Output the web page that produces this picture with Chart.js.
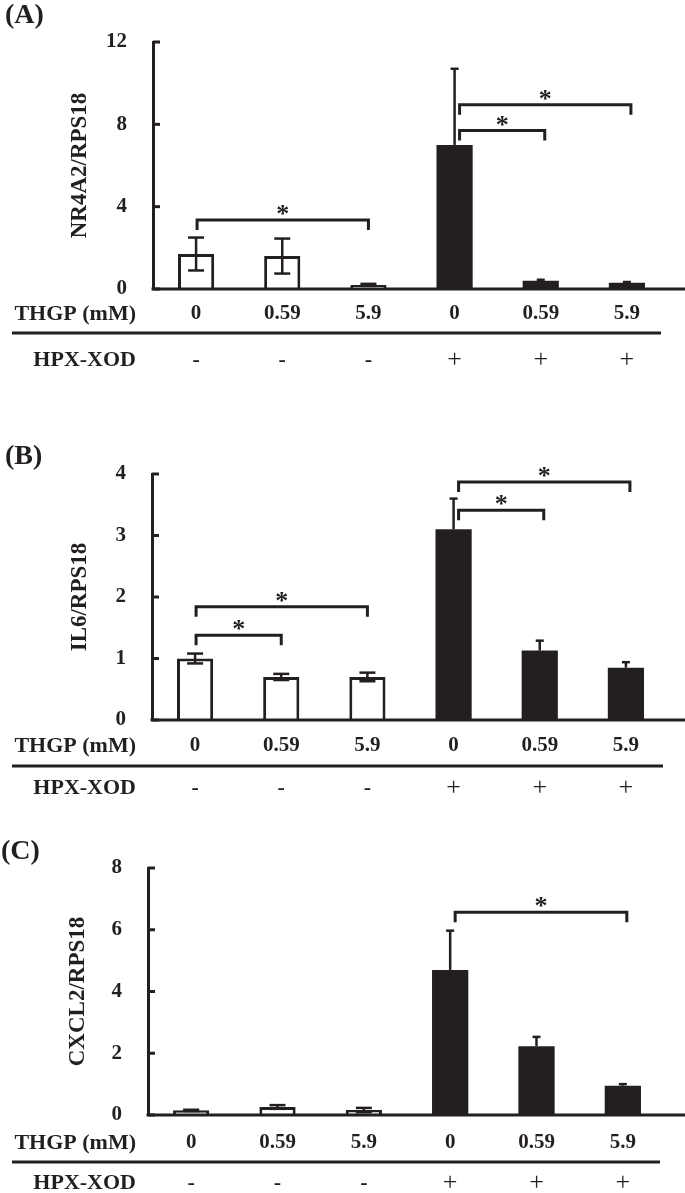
<!DOCTYPE html>
<html>
<head>
<meta charset="utf-8">
<script src="https://cdn.jsdelivr.net/npm/chart.js@4.4.1/dist/chart.umd.min.js"></script>
<style>
  body { margin: 0; background: #fff; width: 685px; height: 1193px; position: relative; overflow: hidden; }
  .panel { position: absolute; left: 0; width: 685px; }
</style>
</head>
<body>
<div class="panel" style="top:0;height:395px"><canvas id="chartA"></canvas></div>
<div class="panel" style="top:395px;height:405px"><canvas id="chartB"></canvas></div>
<div class="panel" style="top:800px;height:393px"><canvas id="chartC"></canvas></div>
<script>
var ink = '#231f20';
var serif = "'Liberation Serif', 'Times New Roman', serif";

var doses = ['0', '0.59', '5.9', '0', '0.59', '5.9'];
var hpxXod = ['-', '-', '-', '+', '+', '+'];

var nr4a2Mean = [1.7, 1.6, 0.2, 7.0, 0.4, 0.3];
var nr4a2Err = [0.8, 0.85, 0.05, 3.7, 0.05, 0.04];
var il6Mean = [1.0, 0.7, 0.7, 3.1, 1.13, 0.85];
var il6Err = [0.08, 0.05, 0.07, 0.5, 0.16, 0.09];
var cxcl2Mean = [0.15, 0.26, 0.16, 4.7, 2.23, 0.95];
var cxcl2Err = [0.02, 0.06, 0.07, 1.27, 0.3, 0.05];

// significance brackets: [from bar, to bar, level on the y scale]
var nr4a2Sig = [[0, 2, 3.35], [3, 5, 8.95], [3, 4, 7.7]];
var il6Sig = [[0, 2, 1.84], [0, 1, 1.38], [3, 5, 3.87], [3, 4, 3.41]];
var cxcl2Sig = [[3, 5, 6.57]];

var barFill = ['#ffffff', '#ffffff', '#ffffff', ink, ink, ink];

// everything that is not a bar: error bars, brackets, rows under the axis
var deco = {
  id: 'deco',
  afterDatasetsDraw: function (chart, args, o) {
    var ctx = chart.ctx, xs = chart.scales.x, ys = chart.scales.y, area = chart.chartArea;
    var vals = chart.data.datasets[0].data;
    function line(x1, y1, x2, y2) { ctx.beginPath(); ctx.moveTo(x1, y1); ctx.lineTo(x2, y2); ctx.stroke(); }
    ctx.save();
    ctx.strokeStyle = ink;
    ctx.fillStyle = ink;

    // error bars
    ctx.lineWidth = 2.5;
    o.err.forEach(function (e, i) {
      var cx = xs.getPixelForValue(i);
      var top = ys.getPixelForValue(vals[i] + e);
      if (i < 3) {
        var bot = ys.getPixelForValue(Math.max(vals[i] - e, 0));
        line(cx, top, cx, bot);
        line(cx - 8, top, cx + 8, top);
        line(cx - 8, bot, cx + 8, bot);
      } else {
        line(cx, top, cx, ys.getPixelForValue(vals[i]));
        line(cx - 4, top, cx + 4, top);
      }
    });

    // x axis line runs to the page edge, y ticks point inward
    ctx.lineWidth = 3;
    line(area.left - 1.5, area.bottom, chart.width, area.bottom);
    ys.ticks.forEach(function (t) {
      var py = ys.getPixelForValue(t.value);
      line(area.left, py, area.left + 7, py);
    });

    // brackets and stars
    ctx.lineJoin = 'miter';
    ctx.font = 'bold 26px ' + serif;
    ctx.textAlign = 'center';
    ctx.textBaseline = 'alphabetic';
    o.sig.forEach(function (s) {
      var x1 = xs.getPixelForValue(s[0]) + (s[0] >= 3 ? 5 : 1);
      var x2 = xs.getPixelForValue(s[1]) + (s[1] >= 3 ? 4 : 0);
      var py = ys.getPixelForValue(s[2]);
      ctx.beginPath();
      ctx.moveTo(x1, py + 10);
      ctx.lineTo(x1, py);
      ctx.lineTo(x2, py);
      ctx.lineTo(x2, py + 10);
      ctx.stroke();
      ctx.fillText('*', (x1 + x2) / 2, py + 2);
    });

    // rows under the axis
    ctx.textBaseline = 'middle';
    ctx.textAlign = 'right';
    ctx.font = 'bold 22px ' + serif;
    ctx.fillText('THGP (mM)', 136, area.bottom + o.rowGap);
    ctx.fillText('HPX-XOD', 136, area.bottom + o.hpxGap);
    ctx.lineWidth = 3;
    line(12, area.bottom + o.lineGap, o.lineEnd, area.bottom + o.lineGap);
    ctx.textAlign = 'center';
    hpxXod.forEach(function (s, i) {
      ctx.font = (s === '+' ? 'normal 26px ' : 'bold 22px ') + serif;
      ctx.fillText(s, xs.getPixelForValue(i), area.bottom + o.hpxGap);
    });

    // panel letter
    ctx.textAlign = 'left';
    ctx.font = 'bold 28px ' + serif;
    ctx.fillText(o.tag, o.tagX, o.tagY);
    ctx.restore();
  }
};

function makePanel(id, p) {
  var h = p.height;
  return new Chart(document.getElementById(id), {
    type: 'bar',
    data: {
      labels: doses,
      datasets: [{
        data: p.mean,
        backgroundColor: barFill,
        borderColor: ink,
        borderWidth: [3, 3, 3, 0, 0, 0],
        barPercentage: 0.42,
        categoryPercentage: 1
      }]
    },
    options: {
      responsive: true,
      maintainAspectRatio: false,
      animation: false,
      events: [],
      layout: { padding: { left: 0, top: p.top, right: p.right, bottom: 0 } },
      plugins: {
        legend: { display: false },
        tooltip: { enabled: false },
        deco: { err: p.err, sig: p.sig, tag: p.tag, tagX: p.tagX, tagY: p.tagY,
                rowGap: p.rowGap, lineGap: p.lineGap, hpxGap: p.hpxGap, lineEnd: p.lineEnd }
      },
      scales: {
        x: {
          grid: { display: false, drawTicks: false },
          border: { display: false },
          ticks: { color: ink, padding: p.rowGap - 12.6, font: { family: serif, size: 21, weight: 'bold' } },
          afterFit: function (s) { s.height = h - p.bottom; }
        },
        y: {
          min: 0,
          max: p.max,
          grid: { display: false, drawTicks: false },
          border: { display: true, color: ink, width: 3 },
          ticks: { stepSize: p.step, color: ink, padding: 26, font: { family: serif, size: 21, weight: 'bold' } },
          title: { display: true, text: p.title, color: ink, padding: { top: p.titleX - 13.8, bottom: 0 },
                   font: { family: serif, size: 23, weight: 'bold' } },
          afterFit: function (s) { s.width = p.left; }
        }
      }
    },
    plugins: [deco]
  });
}

makePanel('chartA', { tag: '(A)', tagX: 5, tagY: 16, title: 'NR4A2/RPS18', mean: nr4a2Mean, err: nr4a2Err, sig: nr4a2Sig,
  max: 12, step: 4, height: 395, top: 42, bottom: 289, left: 153, right: 15, titleX: 80,
  rowGap: 25, lineGap: 44, hpxGap: 71, lineEnd: 661 });
makePanel('chartB', { tag: '(B)', tagX: 5, tagY: 62, title: 'IL6/RPS18', mean: il6Mean, err: il6Err, sig: il6Sig,
  max: 4, step: 1, height: 405, top: 79, bottom: 325, left: 152, right: 16, titleX: 80,
  rowGap: 26, lineGap: 46, hpxGap: 68, lineEnd: 663 });
makePanel('chartC', { tag: '(C)', tagX: 1, tagY: 52, title: 'CXCL2/RPS18', mean: cxcl2Mean, err: cxcl2Err, sig: cxcl2Sig,
  max: 8, step: 2, height: 393, top: 68, bottom: 315, left: 148, right: 19, titleX: 78,
  rowGap: 28, lineGap: 47, hpxGap: 68, lineEnd: 660 });
</script>
</body>
</html>
